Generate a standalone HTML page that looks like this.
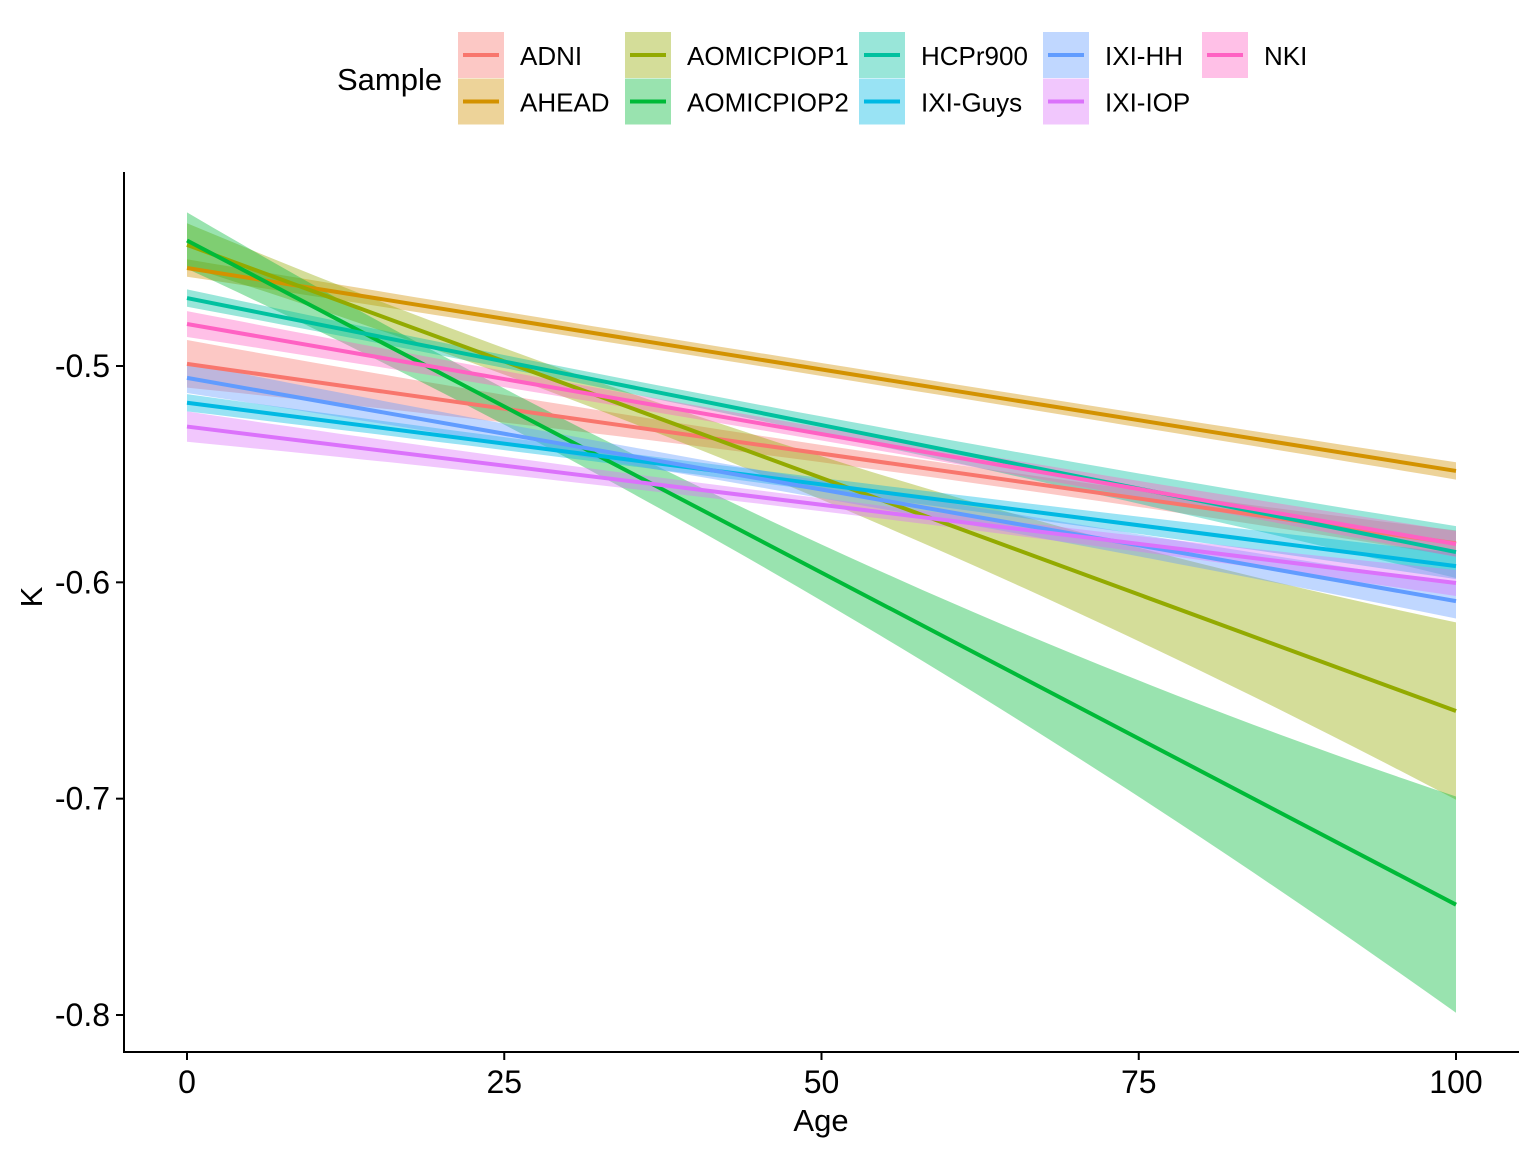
<!DOCTYPE html>
<html><head><meta charset="utf-8"><style>
body{margin:0;background:#fff}
svg{display:block;font-family:"Liberation Sans",Arial,sans-serif}
</style></head><body>
<svg id="chart" width="1536" height="1152" viewBox="0 0 1536 1152" xmlns="http://www.w3.org/2000/svg">
<rect width="1536" height="1152" fill="#fff"/>
<g id="ribbons"></g>
<g id="lines"></g>
<g id="axes"></g>
<g id="legend"></g>
</svg>
<script>
const samples=["ADNI","AHEAD","AOMICPIOP1","AOMICPIOP2","HCPr900","IXI-Guys","IXI-HH","IXI-IOP","NKI"];
const colors=["#F8766D","#D39200","#93AA00","#00BA38","#00C19F","#00B9E3","#619CFF","#DB72FB","#FF61C3"];
const kAt0=[-0.499,-0.4547,-0.444,-0.442,-0.4686,-0.517,-0.5055,-0.528,-0.4806];
const kAt100=[-0.582,-0.5485,-0.6595,-0.749,-0.586,-0.5925,-0.6087,-0.6003,-0.5823];
const hw0=[0.011,0.004,0.010,0.013,0.004,0.004,0.007,0.007,0.006];
const hw50=[0.004,0.003,0.010,0.013,0.004,0.003,0.004,0.003,0.003];
const hw100=[0.006,0.004,0.041,0.050,0.012,0.006,0.008,0.006,0.006];
const xTicks=[0,25,50,75,100];
const yTicks=[-0.5,-0.6,-0.7,-0.8];
const yTickLabels=["-0.5","-0.6","-0.7","-0.8"];

const NS="http://www.w3.org/2000/svg";
const X=v=>187+v*(1456-187)/100;
const Y=v=>366+(-0.5-v)*(1015-366)/0.3;
function mk(tag,attrs,parent){const e=document.createElementNS(NS,tag);for(const k in attrs)e.setAttribute(k,attrs[k]);parent.appendChild(e);return e;}
const rib=document.getElementById('ribbons'),lin=document.getElementById('lines'),ax=document.getElementById('axes'),lg=document.getElementById('legend');
function hw(i,a){const t=a/50;
 const l0=(t-1)*(t-2)/2,l1=-t*(t-2),l2=t*(t-1)/2;return hw0[i]*l0+hw50[i]*l1+hw100[i]*l2;}
samples.forEach((s,i)=>{
 const k=a=>kAt0[i]+(kAt100[i]-kAt0[i])*a/100;
 let up=[],dn=[];
 for(let a=0;a<=100;a+=2){up.push(X(a).toFixed(1)+","+Y(k(a)+hw(i,a)).toFixed(1));dn.unshift(X(a).toFixed(1)+","+Y(k(a)-hw(i,a)).toFixed(1));}
 const p=mk('polygon',{points:up.concat(dn).join(" "),fill:colors[i],'fill-opacity':0.4},rib);
 
 
 const l=mk('line',{x1:X(0),y1:Y(k(0)),x2:X(100),y2:Y(k(100)),stroke:colors[i],'stroke-width':4},lin);
 
 
});
let e=mk('line',{x1:124,y1:172,x2:124,y2:1053,stroke:'#000','stroke-width':2},ax);

e=mk('line',{x1:123,y1:1052,x2:1519,y2:1052,stroke:'#000','stroke-width':2},ax);

xTicks.forEach(v=>{
 mk('line',{x1:X(v),y1:1052,x2:X(v),y2:1060,stroke:'#000','stroke-width':2},ax);
 const t=mk('text',{x:X(v),y:1093,'text-anchor':'middle','font-size':32,fill:'#000'},ax);t.textContent=v;
 
});
yTicks.forEach((v,j)=>{
 mk('line',{x1:116,y1:Y(v),x2:124,y2:Y(v),stroke:'#000','stroke-width':2},ax);
 const t=mk('text',{x:110,y:Y(v)+11,'text-anchor':'end','font-size':32,fill:'#000'},ax);t.textContent=yTickLabels[j];
 
});
e=mk('text',{x:821,y:1131,'text-anchor':'middle','font-size':31},ax);e.textContent='Age';

e=mk('text',{x:42,y:597,'text-anchor':'middle','font-size':31,transform:'rotate(-90 42 597)'},ax);e.textContent='K';

e=mk('text',{x:337,y:90,'font-size':31},lg);e.textContent='Sample';

const colX=[458,625,859,1043,1202];
samples.forEach((s,i)=>{
 const c=Math.floor(i/2),r=i%2,x=colX[c],y=32+r*46.5;
 const g=mk('g',{},lg);
 
 
 mk('rect',{x:x,y:y,width:46,height:46,fill:colors[i],'fill-opacity':0.4},g);
 mk('line',{x1:x+5,y1:y+23,x2:x+41,y2:y+23,stroke:colors[i],'stroke-width':4},g);
 const t=mk('text',{x:x+62,y:y+33,'font-size':26},g);t.textContent=s;
});
</script>
</body></html>
